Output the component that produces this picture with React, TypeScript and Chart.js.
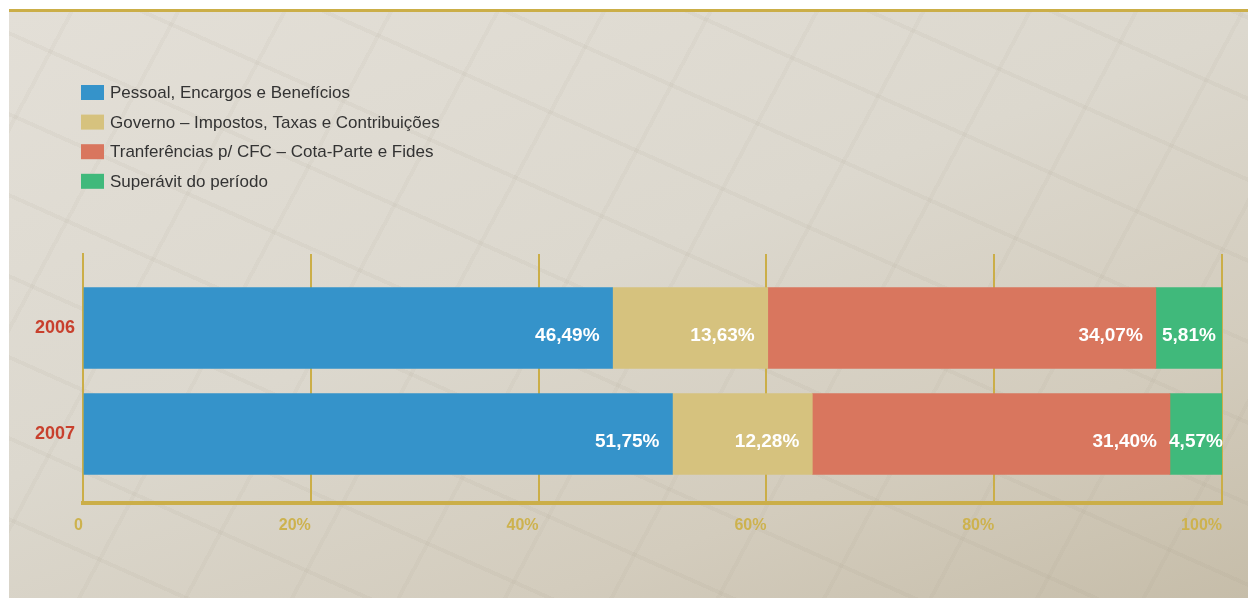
import React, { useEffect, useRef } from "react";
import { Chart, registerables } from "chart.js";

Chart.register(...registerables);

const categories = ["2006", "2007"];
const seriesLabels = [
  "Pessoal, Encargos e Benefícios",
  "Governo – Impostos, Taxas e Contribuições",
  "Tranferências p/ CFC – Cota-Parte e Fides",
  "Superávit do período",
];
const pessoal = [46.49, 51.75];
const governo = [13.63, 12.28];
const transferencias = [34.07, 31.4];
const superavit = [5.81, 4.57];
const xTickValues = [0, 20, 40, 60, 80, 100];

const COLORS = ["#3593CA", "#D6C27E", "#D9765E", "#40B97B"];
const GOLD = "#CBAE48";
const TICK_GOLD = "#CDB24E";
const YEAR_RED = "#C8402D";

const fmt = (v: number) => v.toFixed(2).replace(".", ",") + "%";

const valueLabels = {
  id: "valueLabels",
  afterDatasetsDraw(chart: any) {
    const ctx = chart.ctx;
    ctx.save();
    ctx.font = "bold 19px 'Liberation Sans', Arial, sans-serif";
    ctx.fillStyle = "#ffffff";
    ctx.textBaseline = "middle";
    chart.data.datasets.forEach((ds: any, di: number) => {
      const meta = chart.getDatasetMeta(di);
      meta.data.forEach((el: any, i: number) => {
        const v = ds.data[i].x;
        const txt = fmt(v);
        const w = ctx.measureText(txt).width;
        const end = Math.max(el.x, el.base);
        const start = Math.min(el.x, el.base);
        const y = el.y + 8;
        if (end - start >= w + 26) {
          ctx.textAlign = "right";
          ctx.fillText(txt, end - 13, y);
        } else {
          ctx.textAlign = "center";
          ctx.fillText(txt, (start + end) / 2, y);
        }
      });
    });
    ctx.restore();
  },
};

const sideLegend = {
  id: "sideLegend",
  afterDraw(chart: any) {
    const ctx = chart.ctx;
    ctx.save();
    ctx.font = "17px 'Liberation Sans', Arial, sans-serif";
    ctx.textBaseline = "middle";
    ctx.textAlign = "left";
    chart.data.datasets.forEach((ds: any, i: number) => {
      const top = 85 + i * 29.6;
      ctx.fillStyle = ds.backgroundColor;
      ctx.fillRect(81, top, 23, 15);
      ctx.fillStyle = "#333333";
      ctx.fillText(ds.label, 110, top + 8.5);
    });
    ctx.restore();
  },
};

export default function App() {
  const ref = useRef<HTMLCanvasElement | null>(null);

  useEffect(() => {
    if (!ref.current) return;
    const series = [pessoal, governo, transferencias, superavit];
    const chart = new Chart(ref.current, {
      type: "bar",
      data: {
        datasets: series.map((s, si) => ({
          label: seriesLabels[si],
          data: categories.map((_, i) => ({ x: s[i], y: i })),
          backgroundColor: COLORS[si],
          borderWidth: 0,
          barThickness: 81,
        })),
      },
      options: {
        indexAxis: "y",
        animation: false,
        responsive: false,
        maintainAspectRatio: false,
        layout: { padding: { top: 254, right: 26, bottom: 55, left: 0 } },
        plugins: { legend: { display: false }, tooltip: { enabled: false } },
        scales: {
          x: {
            type: "linear",
            stacked: true,
            min: 0,
            max: 100,
            afterBuildTicks: (scale: any) => {
              scale.ticks = xTickValues.map((v) => ({ value: v }));
            },
            afterFit: (scale: any) => {
              scale.height = 40;
            },
            grid: { color: GOLD, lineWidth: 2, drawTicks: false },
            border: { color: GOLD, width: 4 },
            ticks: {
              align: "end",
              padding: 13,
              color: TICK_GOLD,
              font: { family: "'Liberation Sans', Arial, sans-serif", size: 16, weight: "bold" },
              callback: (v: any) => (v === 0 ? "0" : v + "%"),
            },
          },
          y: {
            type: "linear",
            stacked: true,
            offset: false,
            reverse: true,
            min: -0.698,
            max: 1.651,
            afterBuildTicks: (scale: any) => {
              scale.ticks = categories.map((_, i) => ({ value: i }));
            },
            afterFit: (scale: any) => {
              scale.width = 83;
            },
            grid: { display: false, drawTicks: false, offset: false },
            border: { color: GOLD, width: 2 },
            ticks: {
              padding: 8,
              color: YEAR_RED,
              font: { family: "'Liberation Sans', Arial, sans-serif", size: 18, weight: "bold" },
              callback: (v: any) => categories[v] ?? "",
            },
          },
        },
      } as any,
      plugins: [valueLabels, sideLegend],
    });
    return () => chart.destroy();
  }, []);

  return (
    <div>
      <div
        style={{
          position: "absolute",
          left: 9,
          top: 9,
          width: 1239,
          height: 589,
          boxSizing: "border-box",
          borderTop: `3px solid ${GOLD}`,
          background:
            "repeating-linear-gradient(24deg, rgba(150,140,120,0) 0px, rgba(150,140,120,0) 70px, rgba(150,140,120,0.07) 70px, rgba(150,140,120,0.07) 74px)," +
            "repeating-linear-gradient(-62deg, rgba(150,140,120,0) 0px, rgba(150,140,120,0) 90px, rgba(150,140,120,0.06) 90px, rgba(150,140,120,0.06) 94px)," +
            "linear-gradient(160deg, #e3dfd7 0%, #dcd8ce 45%, #d3ccbd 75%, #c6bda9 100%)",
        }}
      />
      <canvas
        ref={ref}
        width={1248}
        height={598}
        style={{ position: "absolute", left: 0, top: 0, width: 1248, height: 598 }}
      />
    </div>
  );
}
